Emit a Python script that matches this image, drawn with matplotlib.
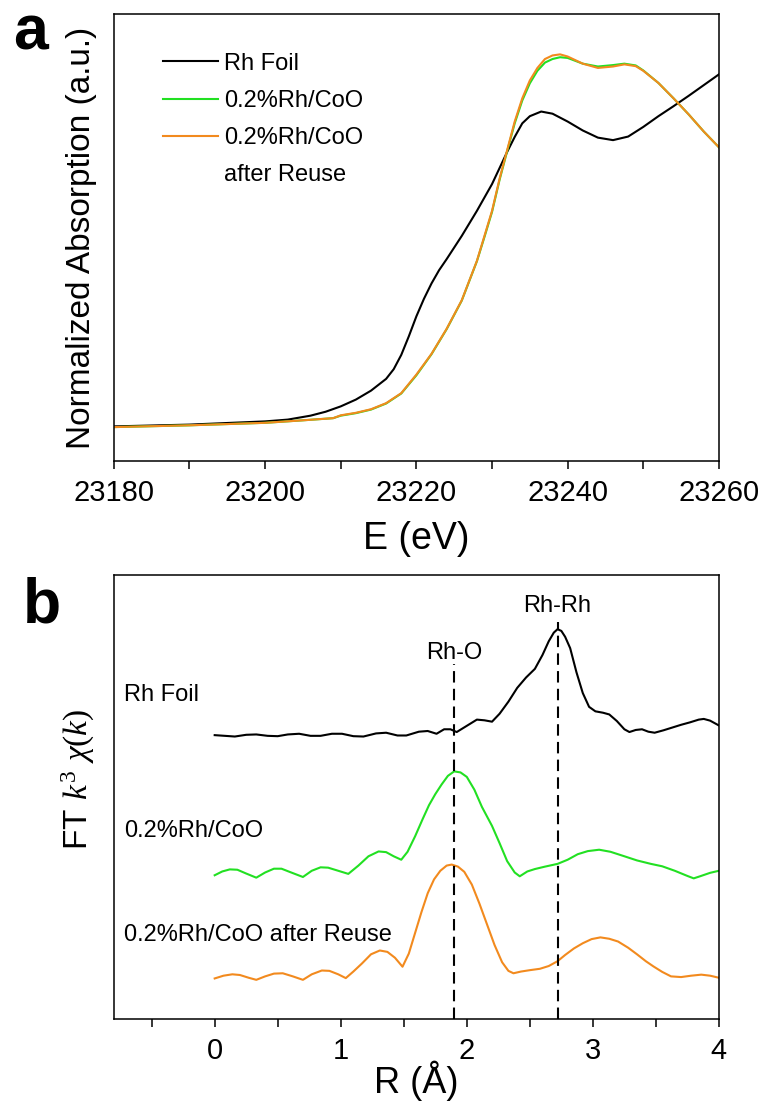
import matplotlib
matplotlib.use("Agg")
import matplotlib.pyplot as plt
from matplotlib.lines import Line2D
from matplotlib.ticker import MultipleLocator

plt.rcParams['font.family'] = ['Liberation Sans', 'DejaVu Sans']
plt.rcParams['mathtext.fontset'] = 'custom'
plt.rcParams['mathtext.rm'] = 'Liberation Serif'
plt.rcParams['mathtext.it'] = 'Liberation Serif:italic'

# ---- panel a : XANES ----
e_foil = [23180, 23190, 23200, 23203, 23206, 23208, 23210, 23212, 23214, 23216,
          23217, 23218, 23219, 23220, 23221, 23222, 23223, 23224, 23226, 23228,
          23230, 23232, 23233, 23234, 23235, 23236.5, 23238, 23240, 23242, 23244,
          23246, 23248, 23250, 23252, 23254, 23256, 23258, 23260]
mu_foil = [0.000, 0.005, 0.014, 0.019, 0.030, 0.041, 0.056, 0.075, 0.100, 0.133,
           0.160, 0.200, 0.252, 0.308, 0.357, 0.400, 0.437, 0.468, 0.533, 0.603,
           0.678, 0.768, 0.810, 0.848, 0.868, 0.881, 0.875, 0.853, 0.828, 0.808,
           0.801, 0.811, 0.838, 0.868, 0.896, 0.925, 0.955, 0.985]

e_coo = [23180, 23190, 23200, 23205, 23209, 23210, 23212, 23214, 23216, 23218,
         23220, 23222, 23224, 23226, 23228, 23229, 23230, 23231, 23232, 23233,
         23234, 23235, 23236, 23237, 23238, 23239, 23240, 23242, 23244, 23246,
         23247.5, 23249, 23250, 23252, 23254, 23256, 23258, 23260]
mu_coo = [-0.002, 0.003, 0.010, 0.017, 0.023, 0.030, 0.037, 0.047, 0.064, 0.092,
          0.143, 0.202, 0.272, 0.352, 0.462, 0.530, 0.600, 0.690, 0.770, 0.848,
          0.912, 0.960, 0.995, 1.018, 1.028, 1.033, 1.031, 1.015, 1.007, 1.011,
          1.015, 1.010, 0.996, 0.961, 0.918, 0.873, 0.825, 0.781]
mu_reuse = [-0.002, 0.003, 0.010, 0.017, 0.023, 0.031, 0.038, 0.048, 0.065, 0.093,
            0.145, 0.203, 0.273, 0.353, 0.463, 0.533, 0.603, 0.693, 0.773, 0.853,
            0.918, 0.968, 1.003, 1.028, 1.038, 1.041, 1.035, 1.015, 1.003, 1.007,
            1.013, 1.008, 0.995, 0.961, 0.918, 0.873, 0.825, 0.781]

# ---- panel b : FT-EXAFS (offset curves) ----
r_foil = [0.00, 0.08, 0.16, 0.25, 0.33, 0.42, 0.50, 0.58, 0.67, 0.76, 0.84, 0.93,
          1.01, 1.10, 1.18, 1.28, 1.36, 1.45, 1.52, 1.62, 1.69, 1.76, 1.82, 1.87,
          1.92, 2.00, 2.08, 2.14, 2.20, 2.26, 2.33, 2.40, 2.47, 2.54, 2.60, 2.65,
          2.69, 2.72, 2.75, 2.78, 2.82, 2.87, 2.92, 2.97, 3.02, 3.08, 3.13, 3.19,
          3.25, 3.29, 3.34, 3.39, 3.44, 3.49, 3.56, 3.63, 3.70, 3.77, 3.84, 3.88,
          3.93, 3.97, 4.00]
ft_foil = [8.23, 8.21, 8.19, 8.24, 8.25, 8.21, 8.20, 8.25, 8.27, 8.21, 8.21, 8.27,
           8.27, 8.20, 8.19, 8.28, 8.30, 8.22, 8.22, 8.33, 8.35, 8.27, 8.40, 8.40,
           8.32, 8.50, 8.68, 8.66, 8.62, 8.85, 9.20, 9.60, 9.90, 10.15, 10.55, 10.95,
           11.20, 11.30, 11.25, 11.08, 10.75, 10.05, 9.45, 9.05, 8.92, 8.88, 8.83, 8.64,
           8.40, 8.32, 8.38, 8.40, 8.33, 8.30, 8.37, 8.45, 8.53, 8.60, 8.68, 8.70,
           8.65, 8.57, 8.51]

r_coo = [0.00, 0.06, 0.12, 0.18, 0.25, 0.33, 0.40, 0.47, 0.53, 0.60, 0.70, 0.77,
         0.84, 0.90, 0.98, 1.06, 1.14, 1.22, 1.30, 1.36, 1.42, 1.48, 1.53, 1.59,
         1.65, 1.70, 1.75, 1.80, 1.85, 1.90, 1.95, 2.00, 2.06, 2.12, 2.20, 2.26,
         2.32, 2.38, 2.42, 2.48, 2.54, 2.62, 2.72, 2.80, 2.88, 2.96, 3.05, 3.14,
         3.25, 3.35, 3.46, 3.55, 3.65, 3.75, 3.80, 3.85, 3.93, 4.00]
ft_coo = [4.17, 4.28, 4.34, 4.33, 4.22, 4.10, 4.25, 4.36, 4.36, 4.26, 4.12, 4.30,
          4.40, 4.39, 4.30, 4.21, 4.45, 4.72, 4.86, 4.84, 4.72, 4.62, 4.85, 5.30,
          5.80, 6.20, 6.52, 6.80, 7.05, 7.18, 7.15, 7.02, 6.65, 6.15, 5.60, 5.10,
          4.58, 4.25, 4.14, 4.28, 4.35, 4.42, 4.50, 4.62, 4.78, 4.87, 4.91, 4.85,
          4.72, 4.60, 4.50, 4.43, 4.30, 4.15, 4.08, 4.14, 4.24, 4.30]

r_reuse = [0.00, 0.07, 0.14, 0.20, 0.27, 0.33, 0.40, 0.47, 0.54, 0.62, 0.70, 0.77,
           0.85, 0.91, 0.98, 1.04, 1.10, 1.17, 1.24, 1.31, 1.37, 1.43, 1.49, 1.54,
           1.59, 1.64, 1.69, 1.74, 1.79, 1.84, 1.88, 1.93, 1.98, 2.04, 2.10, 2.16,
           2.22, 2.28, 2.33, 2.37, 2.43, 2.50, 2.58, 2.65, 2.72, 2.78, 2.85, 2.92,
           2.99, 3.06, 3.13, 3.20, 3.28, 3.35, 3.42, 3.48, 3.55, 3.62, 3.70, 3.78,
           3.86, 3.93, 4.00]
ft_reuse = [1.18, 1.26, 1.30, 1.28, 1.20, 1.14, 1.24, 1.32, 1.33, 1.24, 1.14, 1.30,
            1.41, 1.40, 1.30, 1.19, 1.38, 1.62, 1.88, 1.99, 1.95, 1.78, 1.52, 1.90,
            2.50, 3.10, 3.65, 4.05, 4.30, 4.45, 4.48, 4.42, 4.27, 3.90, 3.35, 2.75,
            2.15, 1.65, 1.40, 1.33, 1.38, 1.42, 1.46, 1.54, 1.68, 1.86, 2.05, 2.20,
            2.32, 2.37, 2.33, 2.25, 2.07, 1.88, 1.68, 1.53, 1.37, 1.24, 1.22, 1.26,
            1.29, 1.26, 1.20]

bond_r = [1.9, 2.72]
bond_names = ['Rh-O', 'Rh-Rh']
bond_top = [10.28, 11.5]
bond_label_y = [10.6, 11.98]

names = ['Rh Foil', '0.2%Rh/CoO', '0.2%Rh/CoO after Reuse']
name_y = [9.38, 5.45, 2.45]

c_foil = 'black'
c_coo = '#22e022'
c_reuse = '#f28a1e'
lw = 1.5

fig = plt.figure(figsize=(7.64, 11.03), dpi=100)

# ---------- a ----------
ax1 = fig.add_axes([0.149, 0.582, 0.792, 0.405])
ax1.plot(e_foil, mu_foil, color=c_foil, lw=lw)
ax1.plot(e_coo, mu_coo, color=c_coo, lw=lw)
ax1.plot(e_coo, mu_reuse, color=c_reuse, lw=lw)
ax1.set_xlim(23180, 23260)
ax1.set_ylim(-0.097, 1.153)
ax1.xaxis.set_major_locator(MultipleLocator(20))
ax1.xaxis.set_minor_locator(MultipleLocator(10))
ax1.set_yticks([])
ax1.set_xlabel('E (eV)', fontsize=27, labelpad=10)
ax1.set_ylabel('Normalized Absorption (a.u.)', fontsize=24, labelpad=12)

handles = [Line2D([], [], color=c_foil, lw=lw),
           Line2D([], [], color=c_coo, lw=lw),
           Line2D([], [], color=c_reuse, lw=lw),
           Line2D([], [], color='none', lw=lw)]
labels = ['Rh Foil', '0.2%Rh/CoO', '0.2%Rh/CoO', 'after Reuse']
ax1.legend(handles, labels, loc='upper left', bbox_to_anchor=(0.081, 0.914),
           frameon=False, fontsize=17, borderpad=0, borderaxespad=0,
           handlelength=2.33, handletextpad=0.25, labelspacing=0.64)

# ---------- b ----------
ax2 = fig.add_axes([0.149, 0.076, 0.792, 0.403])
ax2.plot(r_foil, ft_foil, color=c_foil, lw=lw)
ax2.plot(r_coo, ft_coo, color=c_coo, lw=lw)
ax2.plot(r_reuse, ft_reuse, color=c_reuse, lw=lw)
for r, top, nm, ly in zip(bond_r, bond_top, bond_names, bond_label_y):
    ax2.plot([r, r], [0, top], color='black', lw=1.5, dashes=(5.5, 3))
    ax2.text(r, ly, nm, fontsize=17, ha='center', va='center')
for nm, ny in zip(names, name_y):
    ax2.text(-0.72, ny, nm, fontsize=17, ha='left', va='center')
ax2.set_xlim(-0.8, 4)
ax2.set_ylim(0, 12.88)
ax2.xaxis.set_major_locator(MultipleLocator(1))
ax2.xaxis.set_minor_locator(MultipleLocator(0.5))
ax2.set_yticks([])
ax2.set_xlabel('R (Å)', fontsize=26, labelpad=-3)
ax2.set_ylabel('FT $k^3$ $\\chi(k)$', fontsize=24)
ax2.yaxis.set_label_coords(-0.028, 0.54)

for ax in (ax1, ax2):
    for sp in ax.spines.values():
        sp.set_linewidth(1.1)
    ax.tick_params(axis='x', which='major', direction='out', length=6, width=1.1,
                   labelsize=21, pad=7)
    ax.tick_params(axis='x', which='minor', direction='out', length=6, width=1.1)

fig.text(0.017, 0.9547, 'a', fontsize=45, fontweight='bold', ha='left', va='baseline')
fig.text(0.030, 0.436, 'b', fontsize=45, fontweight='bold', ha='left', va='baseline')

fig.savefig('out.png', dpi=100)
